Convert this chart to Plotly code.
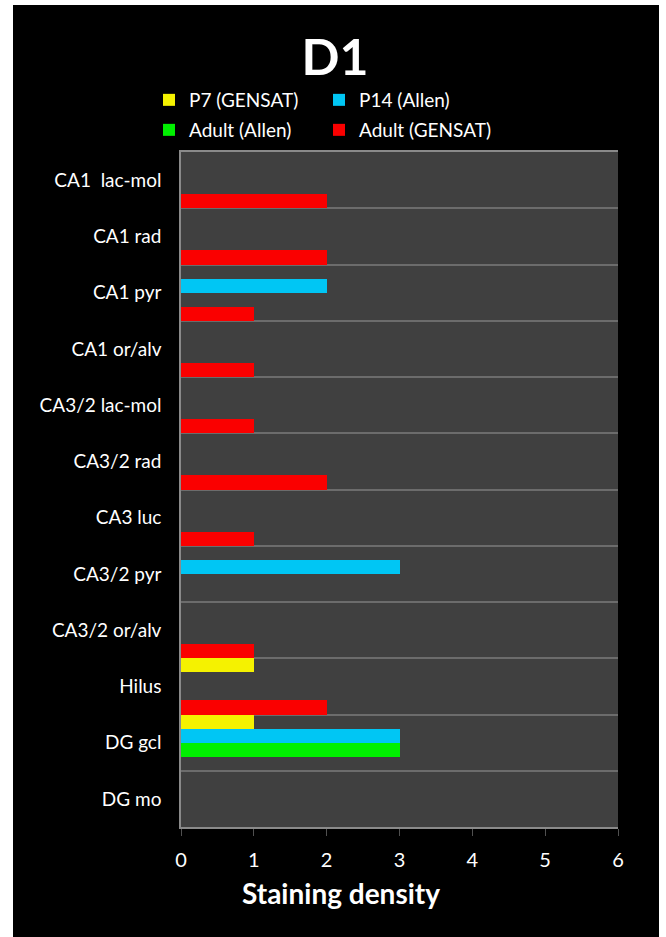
import plotly.graph_objects as go

# ---- data ----
categories = ["CA1\u00a0 lac-mol", "CA1 rad", "CA1 pyr", "CA1 or/alv", "CA3/2 lac-mol",
              "CA3/2 rad", "CA3 luc", "CA3/2 pyr", "CA3/2 or/alv", "Hilus", "DG gcl", "DG mo"]
series_names = ["P7 (GENSAT)", "P14 (Allen)", "Adult (Allen)", "Adult (GENSAT)"]
p7_gensat    = [0, 0, 0, 0, 0, 0, 0, 0, 0, 1, 1, 0]
p14_allen    = [0, 0, 2, 0, 0, 0, 0, 3, 0, 0, 3, 0]
adult_allen  = [0, 0, 0, 0, 0, 0, 0, 0, 0, 0, 3, 0]
adult_gensat = [2, 2, 1, 1, 1, 2, 1, 0, 1, 2, 0, 0]
x_ticks = [0, 1, 2, 3, 4, 5, 6]

series_values = [p7_gensat, p14_allen, adult_allen, adult_gensat]
colors = ["#F5F200", "#00C6F4", "#00F000", "#FA0000"]
legend_ids = ["legend", "legend", "legend2", "legend2"]
legend_widths = [125, 160, 125, 160]

FONT = "Lato, 'Open Sans', sans-serif"

fig = go.Figure()
for name, vals, col, lg, lw in zip(series_names, series_values, colors, legend_ids, legend_widths):
    fig.add_trace(go.Bar(
        x=vals, y=categories, orientation="h", name=name,
        marker=dict(color=col, line=dict(width=0)),
        legend=lg, legendwidth=lw,
    ))

W, H = 666, 937
L, R, T, B = 181, 48, 152, 110
PW, PH = W - L - R, H - T - B

def px_x(px):
    return (px - L) / PW

def px_y(py):
    return (H - B - py) / PH

legend_common = dict(
    orientation="h", xanchor="left", yanchor="middle",
    x=px_x(149), font=dict(family=FONT, size=19, color="white"),
    bgcolor="rgba(0,0,0,0)", itemwidth=30,
    entrywidthmode="pixels", traceorder="normal",
    itemclick=False, itemdoubleclick=False,
)

fig.update_layout(
    width=W, height=H,
    margin=dict(l=L, r=R, t=T, b=B),
    paper_bgcolor="black",
    plot_bgcolor="#404040",
    barmode="group", bargap=0, bargroupgap=0,
    font=dict(family=FONT, color="white"),
    title=dict(text="<b>D1</b>", x=0.503, xref="container", y=1 - 57 / H,
               yref="container", xanchor="center", yanchor="middle",
               font=dict(family=FONT, size=50, color="white")),
    legend=dict(y=px_y(100), **legend_common),
    legend2=dict(y=px_y(130), **legend_common),
    xaxis=dict(range=[0, 6], tickvals=x_ticks, ticks="outside", ticklen=7,
               tickcolor="#505050", tickwidth=1, showline=True, linecolor="#8a8a8a",
               linewidth=1.5, mirror=True, showgrid=False, zeroline=False,
               tickfont=dict(family=FONT, size=20, color="white"),
               ticklabelstandoff=7),
    yaxis=dict(type="category", categoryorder="array", categoryarray=categories,
               range=[len(categories) - 0.5, -0.5], tickson="boundaries",
               showgrid=True, gridcolor="#6c6c6c", gridwidth=1.5,
               showline=True, linecolor="#8a8a8a", linewidth=1.5,
               ticks="", ticklabelstandoff=14, zeroline=False,
               tickfont=dict(family=FONT, size=19, color="white")),
    annotations=[dict(text="<b>Staining density</b>", xref="paper", yref="paper",
                      x=px_x(341), y=px_y(893), xanchor="center", yanchor="middle",
                      showarrow=False, font=dict(family=FONT, size=28, color="white"))],
    shapes=[
        dict(type="rect", xref="paper", yref="paper", x0=px_x(-20), x1=px_x(13),
             y0=px_y(960), y1=px_y(-20), fillcolor="white", line=dict(width=0), layer="below"),
        dict(type="rect", xref="paper", yref="paper", x0=px_x(659), x1=px_x(690),
             y0=px_y(960), y1=px_y(-20), fillcolor="white", line=dict(width=0), layer="below"),
        dict(type="rect", xref="paper", yref="paper", x0=px_x(-20), x1=px_x(690),
             y0=px_y(5), y1=px_y(-20), fillcolor="white", line=dict(width=0), layer="below"),
    ],
)

fig.write_html("out.html")
